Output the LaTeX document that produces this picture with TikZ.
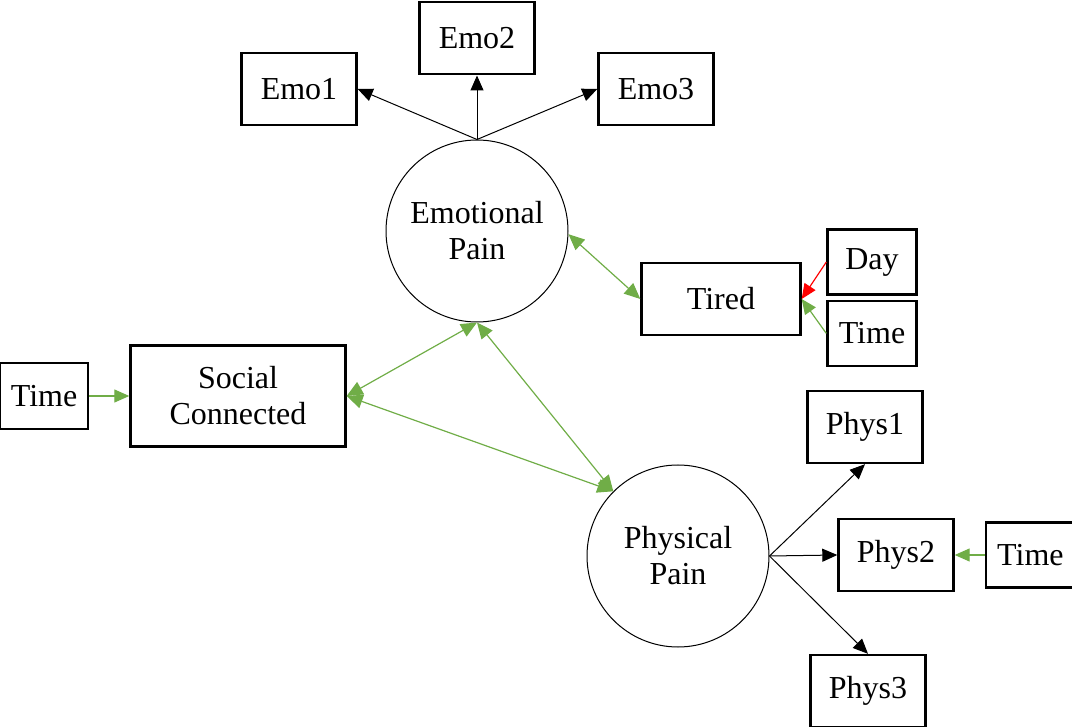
\documentclass[tikz,border=0pt]{standalone}
\usepackage{fontspec}
\setmainfont{Liberation Serif}
\usetikzlibrary{arrows.meta,positioning}
\definecolor{leaf}{HTML}{70AD47}

\begin{document}
\begin{tikzpicture}[
  x=0.5pt, y=-0.5pt,
  node distance=15pt,
  var/.style={draw, line width=1.2pt, minimum width=57.5pt, minimum height=36pt, inner sep=0pt, font=\fontsize{16}{18}\selectfont, align=center},
  small/.style={var, minimum width=44.5pt, minimum height=32.5pt},
  latent/.style={draw, circle, line width=0.5pt, minimum size=91pt, inner sep=0pt, font=\fontsize{16}{18}\selectfont, align=center},
  load/.style={-{Triangle[length=7.5pt, width=6.5pt]}, line width=0.5pt},
  pred/.style={-{Triangle[length=7.5pt, width=6.5pt]}, line width=0.6pt, leaf},
  cov/.style={{Triangle[length=8pt, width=7pt]}-{Triangle[length=8pt, width=7pt]}, line width=0.6pt, leaf}
]
\useasboundingbox (0,0) rectangle (1072,727);

% latent factors
\node[latent] (emo) at (477,231) {Emotional\\Pain};
\node[latent] (phys) at (678,556) {Physical\\Pain};

% observed variables
\node[var, minimum width=107.5pt, minimum height=50.5pt] (social) at (238,396) {Social\\Connected};
\node[small, minimum width=44pt, minimum height=33pt, left=20pt of social] (time1) {Time};
\node[var, minimum width=79.5pt] (tired) at (721,299) {Tired};
\node[small] (day) at (872,262) {Day};
\node[small, below=2pt of day] (time2) {Time};

\node[var, above=32pt of emo] (emo2) {Emo2};
\node[var] (emo1) at (299,89) {Emo1};
\node[var] (emo3) at (656,89) {Emo3};

\node[var] (phys1) at (865,427) {Phys1};
\node[var] (phys2) at (896,555) {Phys2};
\node[small, right=15pt of phys2] (time3) {Time};
\node[var] (phys3) at (868,691) {Phys3};

% loadings
\foreach \t/\a in {emo1/east, emo2/south, emo3/west}
  \draw[load] (emo.north) -- (\t.\a);
\foreach \t/\a in {phys1/south, phys2/west, phys3/north}
  \draw[load] (phys.east) -- (\t.\a);

% covariances
\draw[cov] (emo.-2) -- (tired.west);
\draw[cov] (social.east) -- (emo.south);
\draw[cov] (emo.south) -- (phys.135);
\draw[cov] (social.east) -- (phys.135);

% time / day effects
\draw[pred] (time1) -- (social);
\draw[pred, red] (day.west) -- (tired.east);
\draw[pred] (time2.west) -- (tired.east);
\draw[pred] (time3) -- (phys2);
\end{tikzpicture}
\end{document}
